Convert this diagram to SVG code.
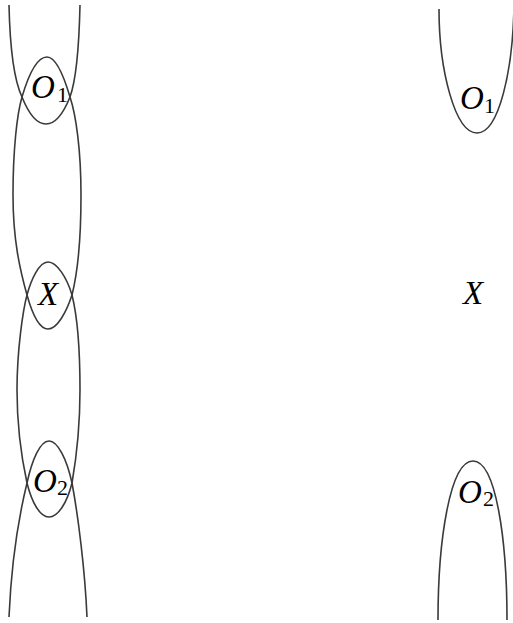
<svg xmlns="http://www.w3.org/2000/svg" width="513" height="623" viewBox="0 0 513 623">
  <style>
    .c { fill: none; stroke: #3a3a3a; stroke-width: 1.6; }
    .m { font-family: "Liberation Serif", "DejaVu Serif", serif; font-style: italic; font-size: 33px; fill: #000; }
    .s { font-family: "Liberation Serif", "DejaVu Serif", serif; font-style: normal; font-size: 22px; fill: #000; }
  </style>
  <rect width="513" height="623" fill="#fff"/>
  <g id="connectors">
    <g id="left-curves">
      <path class="c" d="M9,5 C10,50 14,80 22,97 C28,112 36,124 46,124 C56,124 64,112 70,97 C75,83 79,50 80,5"/>
      <path class="c" d="M47,57 C36,57 27,80 22,97 C17,114 13,150 13,195 C13,240 20,270 27,295 C32,313 39,329 48,329 C57,329 66,313 72,295 C77,275 81,240 81,195 C81,150 76,115 70,97 C65,80 57,57 47,57 Z"/>
      <path class="c" d="M48,262 C39,262 31,280 27,295 C23,310 17,350 17,390 C17,430 22,460 27,483 C32,503 40,517 49,517 C58,517 67,503 72,483 C76,460 80,430 80,390 C80,350 77,315 72,295 C67,278 57,262 48,262 Z"/>
      <path class="c" d="M9,617 C11,570 18,520 27,483 C32,460 40,441 49,441 C58,441 67,460 72,483 C78,515 85,570 87,617"/>
    </g>
    <g id="right-curves">
      <path class="c" d="M439,9 C439,70 455,133 477,133 C499,133 513,70 514,5"/>
      <path class="c" d="M438,620 C438,540 450,461 473,461 C496,461 507,540 507,620"/>
    </g>
  </g>
  <g id="left-O1"><text class="m" x="31" y="98">O<tspan class="s" x="57" y="102">1</tspan></text></g>
  <g id="left-X"><text class="m" x="38" y="305">X</text></g>
  <g id="left-O2"><text class="m" x="33" y="492">O<tspan class="s" x="57" y="495">2</tspan></text></g>
  <g id="right-O1"><text class="m" x="460" y="109">O<tspan class="s" x="484" y="113">1</tspan></text></g>
  <g id="right-X"><text class="m" x="463" y="304">X</text></g>
  <g id="right-O2"><text class="m" x="458" y="503">O<tspan class="s" x="483" y="506">2</tspan></text></g>
</svg>
